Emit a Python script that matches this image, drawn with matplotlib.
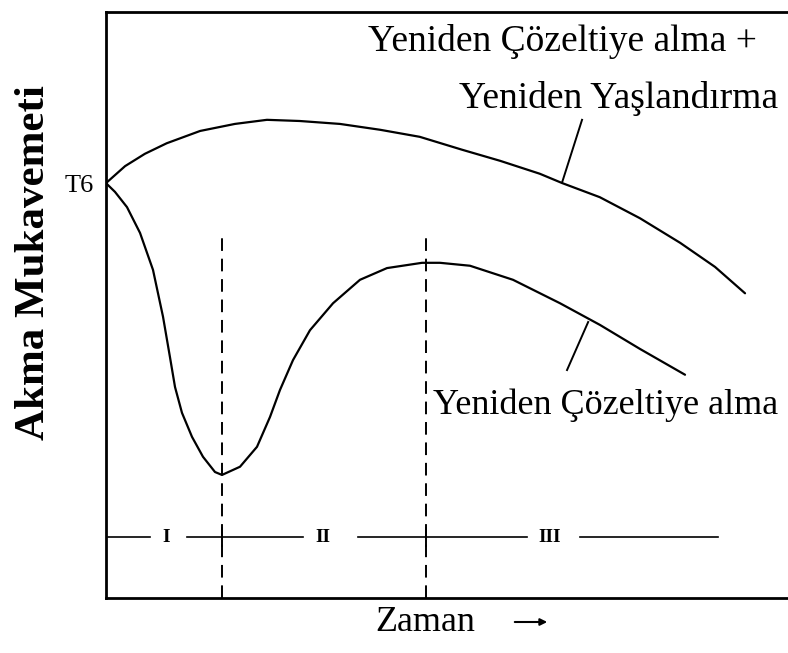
import matplotlib.pyplot as plt

# Schematic: yield strength vs. time after re-solutionising / re-ageing
time_upper = [0, 2.8, 5.7, 8.9, 13.8, 18.9, 23.6, 28.4, 34.3, 40.2, 46.0,
              52.2, 57.8, 63.6, 66.9, 72.4, 78.3, 84.2, 89.3, 93.7]
strength_upper = [70.8, 73.7, 75.8, 77.6, 79.7, 80.9, 81.6, 81.4, 80.9, 79.9, 78.7,
                  76.5, 74.6, 72.4, 70.8, 68.4, 64.8, 60.6, 56.5, 52.0]

time_lower = [0, 1.32, 3.08, 4.99, 6.89, 8.36, 9.38, 10.12, 11.14, 12.61, 14.22,
              15.98, 17.01, 19.65, 22.14, 24.05, 25.51, 27.42, 29.91, 33.29,
              37.24, 41.20, 46.34, 48.97, 53.37, 59.68, 66.57, 72.43, 78.30, 84.90]
strength_lower = [70.8, 69.3, 66.7, 62.3, 56.0, 48.0, 41.1, 36.0, 31.6, 27.5, 24.1,
                  21.5, 21.0, 22.4, 25.8, 30.9, 35.5, 40.6, 45.7, 50.3,
                  54.3, 56.3, 57.2, 57.2, 56.7, 54.3, 50.3, 46.6, 42.5, 38.1]

# stage boundaries (minimum and maximum of the lower curve)
stage_bounds = [17.0, 46.9]
stage_names = ['I', 'II', 'III']
stage_label_x = [8.8, 31.8, 65.1]
stage_y = 10.4
stage_segments = [(0.3, 6.45), (11.9, 28.9), (37.0, 61.7), (69.5, 89.7)]

label_upper_1 = 'Yeniden Çözeltiye alma +'
label_upper_2 = 'Yeniden Yaşlandırma'
label_lower = 'Yeniden Çözeltiye alma'

serif = 'Liberation Serif'

fig = plt.figure(figsize=(7.88, 6.53), dpi=100)
ax = fig.add_axes([106 / 788, 1 - 598 / 653, 682 / 788, 586 / 653])
ax.set_xlim(0, 100)
ax.set_ylim(0, 100)

ax.plot(time_upper, strength_upper, color='black', lw=1.6,
        solid_capstyle='round', solid_joinstyle='round')
ax.plot(time_lower, strength_lower, color='black', lw=1.6,
        solid_capstyle='round', solid_joinstyle='round')

# dashed stage boundaries
for xb in stage_bounds:
    ax.plot([xb, xb], [0, 62.2], color='black', lw=1.4, ls=(0, (6.5, 4)))
    ax.plot([xb, xb], [stage_y - 1.5, stage_y + 1.5], color='black', lw=1.4)

# stage bar with roman numerals
for x0, x1 in stage_segments:
    ax.plot([x0, x1], [stage_y, stage_y], color='black', lw=1.2)
for xs, name in zip(stage_label_x, stage_names):
    ax.text(xs, stage_y, name, family=serif, fontsize=14, fontweight='bold',
            ha='center', va='center')

# curve labels and pointer lines
ax.text(95.5, 95.0, label_upper_1, family=serif, fontsize=27, ha='right', va='center')
ax.text(98.5, 85.3, label_upper_2, family=serif, fontsize=27, ha='right', va='center')
ax.plot([69.8, 66.9], [81.6, 71.0], color='black', lw=1.4)

ax.text(98.5, 32.9, label_lower, family=serif, fontsize=26, ha='right', va='center')
ax.plot([67.6, 70.7], [38.9, 47.1], color='black', lw=1.4)

# axis frame: left, top, bottom only
for side in ['left', 'top', 'bottom']:
    ax.spines[side].set_linewidth(2.0)
ax.spines['right'].set_visible(False)
ax.set_xticks([])
ax.set_yticks([70.8])
ax.set_yticklabels(['T6'], family=serif, fontsize=19)
ax.tick_params(axis='y', length=0, pad=9)

ax.set_ylabel('Akma Mukavemeti', family=serif, fontsize=31, fontweight='bold')
ax.yaxis.set_label_coords(-0.077, 0.573)
ax.set_xlabel('Zaman', family=serif, fontsize=26)
ax.xaxis.set_label_coords(0.468, -0.014)

ax.annotate('', xy=(550 / 788, 1 - 622 / 653), xytext=(512 / 788, 1 - 622 / 653),
            xycoords='figure fraction', textcoords='figure fraction',
            arrowprops=dict(arrowstyle='-|>', color='black', lw=1.5,
                            mutation_scale=10))

fig.savefig('out.png', dpi=100)
